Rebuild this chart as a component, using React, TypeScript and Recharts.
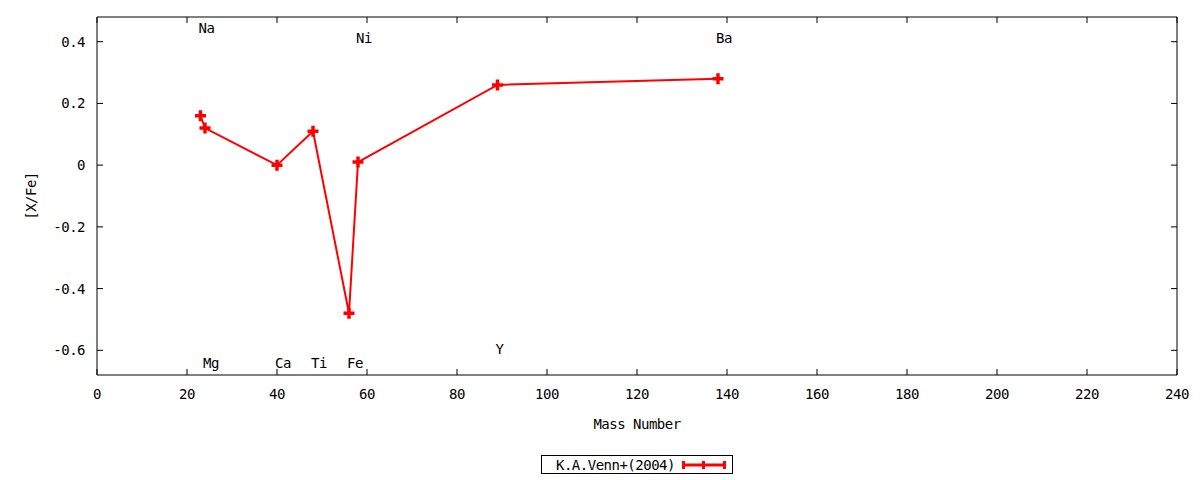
import React from 'react';
import {
  LineChart,
  Line,
  XAxis,
  YAxis,
  Legend,
  Label,
  ReferenceDot,
} from 'recharts';

// element names, mass numbers and abundance ratios
const elements = ['Na', 'Mg', 'Ca', 'Ti', 'Fe', 'Ni', 'Y', 'Ba'];
const massNumbers = [23, 24, 40, 48, 56, 58, 89, 138];
const xFeValues = [0.16, 0.12, 0.0, 0.11, -0.48, 0.01, 0.26, 0.28];
// where each element name sits vertically (in [X/Fe] units)
const labelYValues = [0.445, -0.642, -0.642, -0.642, -0.642, 0.412, -0.597, 0.412];

const xTicks = [0, 20, 40, 60, 80, 100, 120, 140, 160, 180, 200, 220, 240];
const yTicks = [-0.6, -0.4, -0.2, 0, 0.2, 0.4];

const SERIES_NAME = 'K.A.Venn+(2004)';
const RED = '#ff0000';
const FONT = "'DejaVu Sans Mono', monospace";
const FONT_SIZE = 14;
const LETTER_SPACING = -0.5;

const textStyle = {
  fontFamily: FONT,
  fontSize: FONT_SIZE,
  letterSpacing: LETTER_SPACING,
  fill: '#000',
};

const data = massNumbers.map((m, i) => ({ mass: m, value: xFeValues[i], element: elements[i] }));

// tick lines are drawn inwards by recharts (negative tickSize); these only draw the text
const BottomTick = ({ x, y, payload }: any) => (
  <text x={x} y={y} textAnchor="middle" dominantBaseline="central" style={textStyle}>
    {payload.value}
  </text>
);

const LeftTick = ({ x, y, payload }: any) => (
  <text x={x} y={y} textAnchor="end" dominantBaseline="central" style={textStyle}>
    {String(payload.value)}
  </text>
);

const NoText = () => <g />;

const PlusDot = ({ cx, cy, index }: any) => (
  <path
    key={index}
    d={`M${cx - 5.5},${cy}H${cx + 5.5}M${cx},${cy - 5.5}V${cy + 5.5}`}
    stroke={RED}
    strokeWidth={3.5}
    fill="none"
  />
);

const LegendBox = () => (
  <div style={{ display: 'flex', justifyContent: 'center' }}>
    <div
      style={{
        border: '1px solid #000',
        height: 19,
        width: 192,
        boxSizing: 'border-box',
        display: 'flex',
        alignItems: 'center',
        fontFamily: FONT,
        fontSize: FONT_SIZE,
        letterSpacing: LETTER_SPACING,
        paddingLeft: 14,
      }}
    >
      <span>{SERIES_NAME}</span>
      <svg width={50} height={12} style={{ marginLeft: 7 }}>
        <line x1={1} y1={6} x2={43} y2={6} stroke={RED} strokeWidth={3} />
        <line x1={1.5} y1={2} x2={1.5} y2={10} stroke={RED} strokeWidth={3} />
        <line x1={21.5} y1={2} x2={21.5} y2={10} stroke={RED} strokeWidth={3} />
        <line x1={42.5} y1={2} x2={42.5} y2={10} stroke={RED} strokeWidth={3} />
      </svg>
    </div>
  </div>
);

export default function App() {
  return (
    <div style={{ position: 'absolute', left: 0, top: 0, background: '#fff' }}>
      <LineChart
        width={1200}
        height={480}
        data={data}
        margin={{ top: 16, right: 22, left: 0, bottom: 6 }}
      >
        <XAxis
          dataKey="mass"
          type="number"
          domain={[0, 240]}
          ticks={xTicks}
          height={80}
          tickSize={-6}
          tickMargin={25}
          tickLine={{ stroke: '#000' }}
          tick={<BottomTick />}
          axisLine={{ stroke: '#000' }}
          interval={0}
        >
          <Label
            content={({ viewBox }: any) => (
              <text
                x={viewBox.x + viewBox.width / 2}
                y={viewBox.y + 49}
                textAnchor="middle"
                dominantBaseline="central"
                style={textStyle}
              >
                Mass Number
              </text>
            )}
          />
        </XAxis>
        <XAxis
          xAxisId="top"
          orientation="top"
          dataKey="mass"
          type="number"
          domain={[0, 240]}
          ticks={xTicks}
          height={1}
          tickSize={-6}
          tickMargin={0}
          tickLine={{ stroke: '#000' }}
          tick={<NoText />}
          axisLine={{ stroke: '#000' }}
          interval={0}
        />
        <YAxis
          type="number"
          domain={[-0.68, 0.48]}
          ticks={yTicks}
          width={97}
          tickSize={-6}
          tickMargin={18}
          tickLine={{ stroke: '#000' }}
          tick={<LeftTick />}
          axisLine={{ stroke: '#000' }}
          interval={0}
          allowDataOverflow
        >
          <Label
            content={({ viewBox }: any) => {
              const cx = viewBox.x + 31;
              const cy = viewBox.y + viewBox.height / 2;
              return (
                <text
                  x={cx}
                  y={cy}
                  transform={`rotate(-90, ${cx}, ${cy})`}
                  textAnchor="middle"
                  dominantBaseline="central"
                  style={textStyle}
                >
                  [X/Fe]
                </text>
              );
            }}
          />
        </YAxis>
        <YAxis
          yAxisId="right"
          orientation="right"
          type="number"
          domain={[-0.68, 0.48]}
          ticks={yTicks}
          width={1}
          tickSize={-6}
          tickMargin={0}
          tickLine={{ stroke: '#000' }}
          tick={<NoText />}
          axisLine={{ stroke: '#000' }}
          interval={0}
          allowDataOverflow
        />
        <Legend
          verticalAlign="bottom"
          content={<LegendBox />}
          wrapperStyle={{ left: 97, width: 1080, bottom: 6 }}
        />
        {elements.map((el, i) => (
          <ReferenceDot
            key={el}
            x={massNumbers[i]}
            y={labelYValues[i]}
            r={0}
            ifOverflow="visible"
            shape={(p: any) => (
              <text
                x={p.cx - 2}
                y={p.cy}
                textAnchor="start"
                dominantBaseline="central"
                style={textStyle}
              >
                {el}
              </text>
            )}
          />
        ))}
        <Line
          type="linear"
          dataKey="value"
          name={SERIES_NAME}
          stroke={RED}
          strokeWidth={2}
          dot={<PlusDot />}
          activeDot={false}
          isAnimationActive={false}
        />
      </LineChart>
    </div>
  );
}
